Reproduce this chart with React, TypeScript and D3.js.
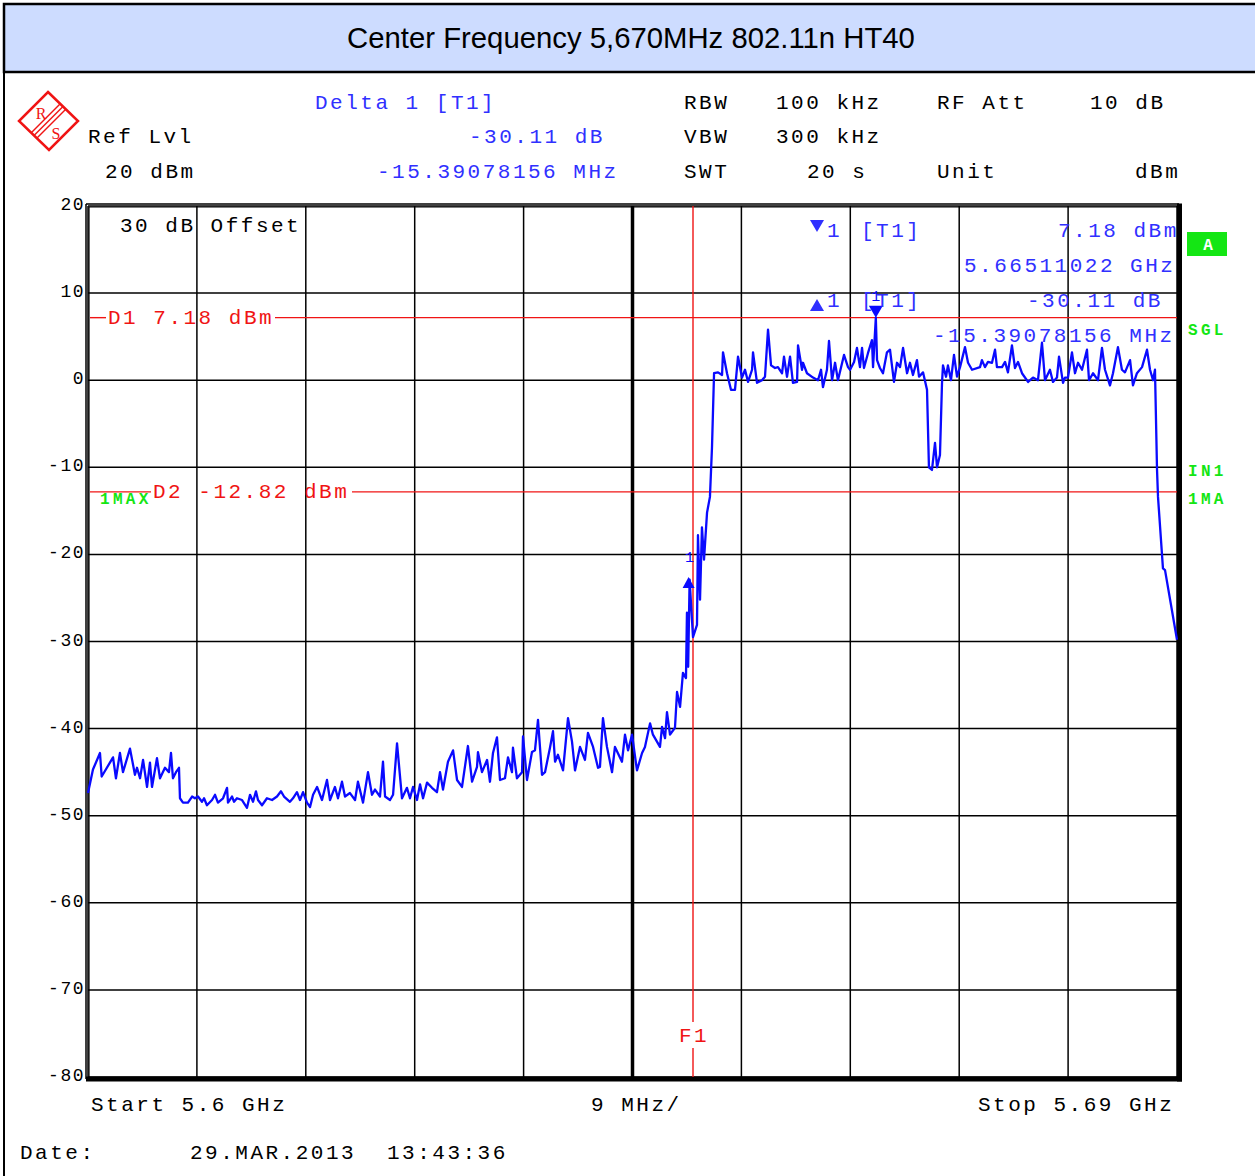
import React from "react";
import * as d3 from "d3";

// ---- axis settings ----
const START_MHZ = 5600;
const STOP_MHZ = 5690;
const DIV_MHZ = 9;
const Y_TOP = 20;
const Y_BOTTOM = -80;
const yTicks = [20, 10, 0, -10, -20, -30, -40, -50, -60, -70, -80];

// ---- markers / lines ----
const markerFreqMHz = 5665.11022;
const markerLevel = 7.18;
const deltaFreqMHz = 5649.71944;
const deltaLevel = -22.93;
const d1Level = 7.18;
const d2Level = -12.82;
const f1FreqMHz = 5650;

// ---- trace (offset from start in MHz, level dBm) ----
const lowBandTrace: [number, number][] = [
  [0, -47.4], [0.41, -44.7], [0.99, -42.8], [1.13, -45.5], [2.07, -43.3], [2.31, -45.7], [2.64, -42.8],
  [2.89, -45.0], [3.47, -42.3], [3.88, -45.3], [4.05, -44.5], [4.3, -45.7], [4.55, -43.6], [4.88, -46.7],
  [5.12, -43.9], [5.29, -46.7], [5.7, -43.4], [5.95, -45.7], [6.36, -44.5], [6.69, -45.0], [6.86, -42.8],
  [7.02, -45.7], [7.27, -45.0], [7.52, -44.5], [7.6, -48.0], [7.85, -48.5], [8.26, -48.5], [8.6, -47.8],
  [8.84, -48.0], [9.09, -47.8], [9.42, -48.4], [9.59, -48.0], [9.83, -48.8], [10.25, -48.2], [10.5, -47.6],
  [10.74, -48.5], [11.16, -48.0], [11.49, -46.8], [11.57, -48.5], [11.9, -47.8], [12.07, -48.4], [12.31, -48.0],
  [12.73, -48.2], [13.14, -49.1], [13.39, -47.6], [13.64, -48.4], [13.88, -47.2], [14.05, -48.2], [14.38, -48.8],
  [14.79, -48.0], [15.21, -48.2], [15.62, -47.8], [15.95, -47.2], [16.2, -47.8], [16.69, -48.4], [16.94, -48.0],
  [17.27, -47.3], [17.52, -48.2], [17.77, -47.3], [18.1, -48.5], [18.35, -49.0], [18.6, -47.6], [18.93, -46.7],
  [19.34, -48.2], [19.75, -45.9], [20.0, -48.2], [20.41, -46.7], [20.66, -48.0], [20.99, -46.1], [21.24, -47.8],
  [21.65, -47.4], [22.07, -48.2], [22.31, -46.1], [22.73, -48.5], [23.14, -45.0], [23.47, -47.6], [23.72, -47.0],
  [24.13, -47.8], [24.38, -43.8], [24.55, -47.8], [24.96, -48.2], [25.21, -47.6], [25.54, -41.7], [25.95, -48.0],
  [26.36, -46.8], [26.61, -48.0], [26.86, -46.7], [27.19, -48.2], [27.44, -46.4], [27.69, -48.0], [28.02, -46.2],
  [28.43, -46.8], [28.84, -47.3], [29.09, -45.0], [29.34, -47.0], [29.75, -43.8], [30.17, -42.5], [30.5, -45.9],
  [30.91, -46.7], [31.4, -42.0], [31.74, -46.1], [32.15, -44.4], [32.23, -42.7], [32.56, -45.0], [32.98, -43.6],
  [33.22, -46.1], [33.47, -42.8], [33.8, -41.0], [34.05, -45.9], [34.46, -45.7], [34.71, -43.3], [35.04, -45.0],
  [35.12, -42.2], [35.45, -45.7], [35.87, -45.0], [35.95, -40.9], [36.28, -45.9], [36.69, -42.7], [36.94, -42.5],
  [37.19, -39.0], [37.52, -45.3], [37.77, -45.0], [38.18, -42.2], [38.43, -40.3], [38.6, -43.8], [38.84, -43.0],
  [39.26, -44.8], [39.67, -38.8], [40.0, -41.5], [40.25, -44.8], [40.66, -42.1], [41.07, -43.6], [41.32, -40.5],
  [41.74, -42.1], [42.15, -44.5],
];

const rampTrace: [number, number][] = [
  [42.31, -44.4], [42.56, -38.8], [42.89, -42.1], [43.31, -45.0], [43.55, -42.1], [44.13, -43.8], [44.38, -40.7],
  [44.63, -42.5], [44.96, -40.7], [45.37, -44.8], [45.79, -42.8], [46.03, -42.1], [46.45, -39.4], [46.69, -40.7],
  [47.27, -42.1], [47.44, -39.8], [47.69, -41.1], [47.85, -38.1], [48.1, -40.7], [48.51, -39.9], [48.68, -35.8],
  [48.93, -37.5], [49.17, -33.6], [49.42, -34.2], [49.5, -26.7], [49.6, -32.9], [49.72, -22.9], [50.0, -29.5],
  [50.33, -28.1], [50.41, -17.8], [50.58, -25.2], [50.74, -16.9], [50.91, -20.6], [51.16, -15.2], [51.4, -13.4],
  [51.57, -7.7], [51.74, 0.8],
];

const inBandTrace: [number, number][] = [
  [52.07, 0.9], [52.4, 0.6], [52.48, 3.2], [52.81, 0.8], [53.14, -1.1], [53.47, -1.1], [53.72, 2.7],
  [54.05, 0.3], [54.3, 1.2], [54.55, -0.2], [54.88, 1.2], [54.96, 3.2], [55.29, -0.3], [55.7, 0.0], [55.95, 0.4],
  [56.2, 5.8], [56.45, 1.7], [56.78, 1.4], [57.02, 1.5], [57.36, 0.8], [57.52, 2.7], [57.77, 0.4], [58.02, 2.7],
  [58.26, -0.3], [58.6, -0.2], [58.68, 4.0], [59.01, 1.2], [59.09, 2.0], [59.42, 0.8], [59.92, 0.3], [60.33, 0.0],
  [60.58, 1.2], [60.74, -0.8], [61.07, 1.2], [61.24, 4.5], [61.49, 0.0], [61.74, 2.0], [61.98, 0.0], [62.48, 2.9],
  [62.81, 1.5], [62.98, 1.2], [63.31, 2.1], [63.55, 3.7], [63.8, 1.5], [63.97, 3.7], [64.13, 1.4], [64.46, 3.1],
  [64.79, 4.6], [64.88, 1.5], [65.11, 7.18], [65.21, 2.3], [65.45, 1.4], [65.7, 0.8], [66.03, 3.2], [66.28, 3.5],
  [66.61, -0.2], [66.86, 2.0], [67.11, 1.5], [67.36, 3.7], [67.69, 0.8], [67.93, 2.0], [68.18, 0.6], [68.51, 2.3],
  [68.68, 0.4], [69.01, 0.9], [69.34, -1.1], [69.5, -10.0], [69.75, -10.3], [70.0, -7.2], [70.17, -10.0],
  [70.41, -8.6], [70.58, -0.3], [70.66, 1.7], [70.91, 0.4], [71.07, 1.7], [71.32, 0.0], [71.57, 2.9], [71.82, 0.4],
  [72.07, 1.5], [72.48, 3.8], [72.73, 2.0], [73.06, 1.2], [73.72, 1.5], [73.88, 2.3], [74.13, 1.5], [74.38, 2.1],
  [74.71, 2.0], [74.96, 3.5], [75.12, 1.5], [75.54, 1.5], [75.79, 2.1], [76.03, 0.9], [76.36, 4.0], [76.61, 1.4],
  [76.86, 2.1], [77.19, 0.8], [77.69, -0.2], [78.1, 0.3], [78.51, 0.0], [78.84, 4.3], [79.09, 0.0], [79.5, 1.2],
  [79.75, -0.2], [80.08, 0.3], [80.25, 2.7], [80.58, -0.3], [80.74, 0.3], [80.99, 0.3], [81.32, 3.2], [81.57, 0.8],
  [81.82, 2.0], [82.15, 1.2], [82.56, 3.5], [82.73, 0.0], [83.06, 0.8], [83.47, 0.0], [83.8, 3.7], [84.05, 1.2],
  [84.46, -0.6], [84.71, 0.8], [85.12, 3.8], [85.45, 1.2], [85.7, 0.9], [86.12, 2.3], [86.36, -0.6], [86.69, 0.8],
  [87.11, 1.5], [87.52, 3.5], [87.77, 1.2], [88.02, 0.0], [88.18, 1.2],
];

const rollOffTrace: [number, number][] = [
  [88.35, -10.3], [88.43, -13.4], [88.84, -21.6], [89.01, -21.8], [90.0, -29.8],
];

// ---- header text ----
const titleText = "Center Frequency 5,670MHz 802.11n HT40";

const W = 1255;
const H = 1176;
const PL = 88, PR = 1177, PT = 206, PB = 1077;

const MONO = "'Liberation Mono', 'DejaVu Sans Mono', monospace";
const BLUE = "#3030ff";
const RED = "#f01414";
const GREEN = "#14e614";
const TRACE = "#0a0aff";

function T(props: { x: number; y: number; text: string; fill?: string; size?: number; ls?: number; weight?: string; anchor?: string }) {
  const { x, y, text, fill = "#000", size = 21, ls = 2.5, weight = "normal", anchor = "start" } = props;
  return (
    <text x={x} y={y} fill={fill} fontFamily={MONO} fontSize={size} letterSpacing={ls} fontWeight={weight} textAnchor={anchor} style={{ whiteSpace: "pre" }}>
      {text}
    </text>
  );
}

export default function App() {
  const x = d3.scaleLinear().domain([START_MHZ, STOP_MHZ]).range([PL, PR]);
  const y = d3.scaleLinear().domain([Y_BOTTOM, Y_TOP]).range([PB, PT]);
  const data = [...lowBandTrace, ...rampTrace, ...inBandTrace, ...rollOffTrace].map(([f, v]) => [START_MHZ + f, v] as [number, number]);
  const line = d3.line<[number, number]>().x((d) => x(d[0])).y((d) => y(d[1]));
  const vTicks = d3.range(START_MHZ, STOP_MHZ + 0.001, DIV_MHZ);

  const mx = x(markerFreqMHz), my = y(markerLevel);
  const dx = x(deltaFreqMHz), dy = y(deltaLevel);
  const yd1 = y(d1Level), yd2 = y(d2Level);
  const xf1 = x(f1FreqMHz);

  return (
    <div style={{ position: "absolute", left: 0, top: 0 }}>
      <svg width={W} height={H} style={{ display: "block", background: "#fff" }}>
        {/* page frame & title */}
        <rect x={4} y={4} width={W + 10} height={H + 10} fill="#fff" stroke="#000" strokeWidth={2} />
        <rect x={4} y={4} width={W + 10} height={68} fill="#cddcff" stroke="#000" strokeWidth={2.5} />
        <text x={631} y={48} textAnchor="middle" fontFamily="'Liberation Sans', Arial, sans-serif" fontSize={29.3} fill="#000">{titleText}</text>

        {/* logo */}
        <g stroke={RED} fill="none" strokeWidth={2.5}>
          <polygon points="48,92 78,121 49,150 19,121" fill="#fff" />
          <line x1={66} y1={109} x2={37} y2={138} strokeWidth={1.5} />
          <line x1={63} y1={106.5} x2={34} y2={135.5} strokeWidth={1.5} />
          <line x1={60} y1={104} x2={31} y2={133} strokeWidth={1.5} />
        </g>
        <text x={41} y={119} fill={RED} fontFamily="'Liberation Serif', serif" fontSize={16} textAnchor="middle">R</text>
        <text x={56} y={139} fill={RED} fontFamily="'Liberation Serif', serif" fontSize={16} textAnchor="middle">S</text>

        {/* header */}
        <T x={315} y={109} text="Delta 1 [T1]" fill={BLUE} />
        <T x={684} y={109} text="RBW" />
        <T x={776} y={109} text="100 kHz" />
        <T x={937} y={109} text="RF Att" />
        <T x={1090} y={109} text="10 dB" />
        <T x={88} y={143} text="Ref Lvl" />
        <T x={469} y={143} text="-30.11 dB" fill={BLUE} />
        <T x={684} y={143} text="VBW" />
        <T x={776} y={143} text="300 kHz" />
        <T x={105} y={178} text="20 dBm" />
        <T x={377} y={178} text="-15.39078156 MHz" fill={BLUE} />
        <T x={684} y={178} text="SWT" />
        <T x={807} y={178} text="20 s" />
        <T x={937} y={178} text="Unit" />
        <T x={1135} y={178} text="dBm" />

        {/* grid */}
        <g stroke="#000" strokeWidth={1.5}>
          {yTicks.map((t) => (
            <line key={"h" + t} x1={PL} x2={PR} y1={y(t)} y2={y(t)} />
          ))}
          {vTicks.map((t, i) => (
            <line key={"v" + i} x1={x(t)} x2={x(t)} y1={PT} y2={PB} strokeWidth={i === 5 ? 3.5 : 1.5} />
          ))}
        </g>
        {/* frame */}
        <g fill="none" stroke="#000">
          <line x1={PL - 2} y1={PT - 2} x2={PR + 2} y2={PT - 2} strokeWidth={1.5} />
          <line x1={PL + 1} y1={PT + 1} x2={PR} y2={PT + 1} strokeWidth={1.2} />
          <line x1={PL - 2} y1={PT - 2} x2={PL - 2} y2={PB + 2} strokeWidth={1.5} />
          <line x1={PL + 1} y1={PT + 1} x2={PL + 1} y2={PB} strokeWidth={1.2} />
          <line x1={PR + 2.5} y1={PT - 2.5} x2={PR + 2.5} y2={PB + 4.5} strokeWidth={5} />
          <line x1={PL - 2} y1={PB + 2} x2={PR + 5} y2={PB + 2} strokeWidth={5} />
        </g>

        {/* y tick labels */}
        {yTicks.map((t) => (
          <T key={"yl" + t} x={85} y={y(t) + 4} text={String(t)} size={18} ls={1.5} anchor="end" />
        ))}

        {/* in-plot labels */}
        <T x={120} y={232} text="30 dB Offset" />

        {/* display lines */}
        <g stroke={RED} strokeWidth={1.4}>
          <line x1={90} x2={106} y1={yd1} y2={yd1} />
          <line x1={275} x2={PR} y1={yd1} y2={yd1} />
          <line x1={90} x2={151} y1={yd2} y2={yd2} />
          <line x1={352} x2={PR} y1={yd2} y2={yd2} />
          <line x1={xf1} x2={xf1} y1={PT} y2={1022} />
          <line x1={xf1} x2={xf1} y1={1048} y2={PB} />
        </g>
        <T x={108} y={yd1 + 6} text="D1 7.18 dBm" fill={RED} />
        <T x={153} y={yd2 + 6} text="D2 -12.82 dBm" fill={RED} />
        <T x={xf1 + 1} y={1042} text="F1" fill={RED} anchor="middle" />
        <T x={100} y={504} text="1MAX" fill={GREEN} size={16} ls={3.3} weight="bold" />

        {/* trace */}
        <path d={line(data) || ""} fill="none" stroke={TRACE} strokeWidth={2.3} strokeLinejoin="round" />

        {/* markers */}
        <path d={`M${mx},${my} l-7,-12 h14 z`} fill={TRACE} />
        <text x={mx} y={my - 17} fill={TRACE} fontFamily={MONO} fontSize={15} textAnchor="middle">1</text>
        <path d={`M${dx - 1},${dy - 3} l-6,11 h12 z`} fill={TRACE} />
        <text x={dx} y={dy - 18} fill={TRACE} fontFamily={MONO} fontSize={15} textAnchor="middle">1</text>

        {/* marker info */}
        <path d="M810,220 h14 l-7,12 z" fill={BLUE} />
        <T x={827} y={237} text="1" fill={BLUE} />
        <T x={861} y={237} text="[T1]" fill={BLUE} />
        <T x={1058} y={237} text="7.18 dBm" fill={BLUE} />
        <T x={964} y={272} text="5.66511022 GHz" fill={BLUE} />
        <path d="M810,311 h14 l-7,-12 z" fill={BLUE} />
        <T x={827} y={307} text="1" fill={BLUE} />
        <T x={861} y={307} text="[T1]" fill={BLUE} />
        <T x={1027} y={307} text="-30.11 dB" fill={BLUE} />
        <T x={933} y={342} text="-15.39078156 MHz" fill={BLUE} />

        {/* right status */}
        <rect x={1187} y={232} width={40} height={24} fill={GREEN} />
        <T x={1208} y={250} text="A" fill="#fff" size={16} ls={0} weight="bold" anchor="middle" />
        <T x={1188} y={335} text="SGL" fill={GREEN} size={16} ls={3.3} weight="bold" />
        <T x={1188} y={476} text="IN1" fill={GREEN} size={16} ls={3.3} weight="bold" />
        <T x={1188} y={504} text="1MA" fill={GREEN} size={16} ls={3.3} weight="bold" />

        {/* bottom */}
        <T x={91} y={1111} text="Start 5.6 GHz" />
        <T x={591} y={1111} text="9 MHz/" />
        <T x={978} y={1111} text="Stop 5.69 GHz" />
        <T x={20} y={1159} text="Date:" />
        <T x={190} y={1159} text="29.MAR.2013" />
        <T x={387} y={1159} text="13:43:36" />
      </svg>
    </div>
  );
}
